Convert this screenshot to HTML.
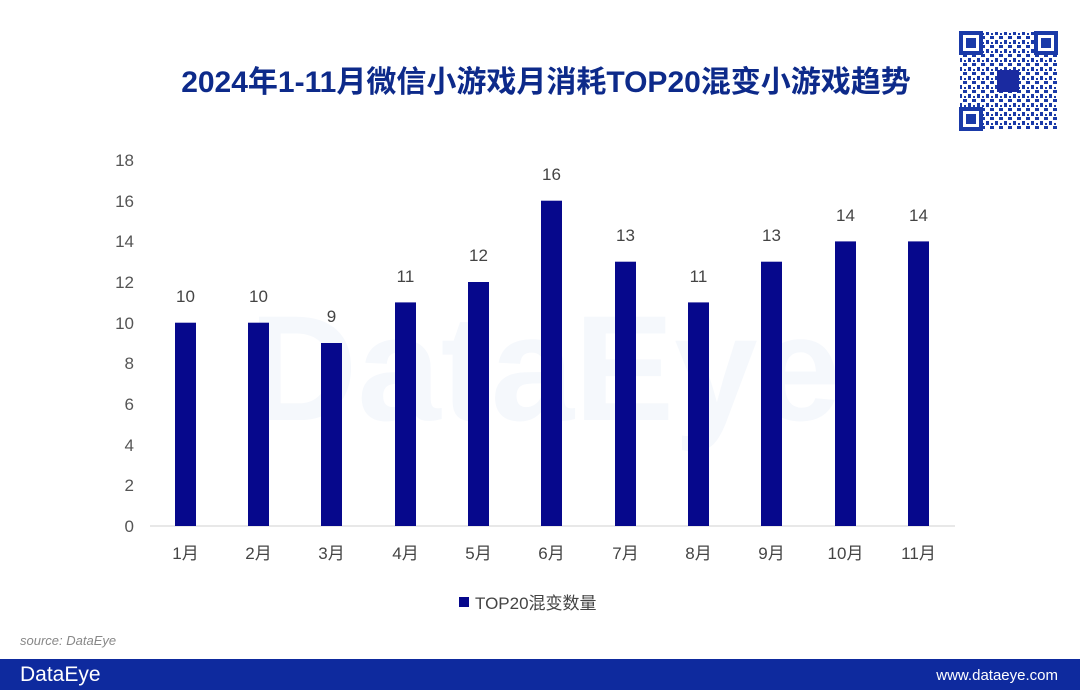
<!DOCTYPE html>
<html><head><meta charset="utf-8"><style>
html,body{margin:0;padding:0;background:#fff;}
body{width:1080px;height:690px;overflow:hidden;position:relative;font-family:"Liberation Sans","Noto Sans CJK SC",sans-serif;}
</style></head><body>
<svg width="1080" height="690" xmlns="http://www.w3.org/2000/svg" style="position:absolute;left:0;top:0">
<defs>
<pattern id="qr" width="9" height="9" patternUnits="userSpaceOnUse">
<rect x="0" y="0" width="4" height="3" fill="#1a3aa8"/><rect x="5" y="4" width="3" height="4" fill="#1a3aa8"/><rect x="1" y="6" width="2" height="2" fill="#1a3aa8"/>
</pattern>
</defs>
<text x="546" y="92" text-anchor="middle" font-size="30" font-weight="bold" fill="#0d2a8a" font-family="Liberation Sans,Noto Sans CJK SC,sans-serif">2024年1-11月微信小游戏月消耗TOP20混变小游戏趋势</text>
<text x="545" y="420" text-anchor="middle" font-size="150" font-weight="bold" fill="#f5f8fc">DataEye</text>
<g>
<rect x="960" y="32" width="97" height="98" fill="url(#qr)"/>
<rect x="961" y="33" width="20" height="20" fill="#fff" stroke="#1a3aa8" stroke-width="4"/><rect x="966" y="38" width="10" height="10" fill="#1a3aa8"/>
<rect x="1036" y="33" width="20" height="20" fill="#fff" stroke="#1a3aa8" stroke-width="4"/><rect x="1041" y="38" width="10" height="10" fill="#1a3aa8"/>
<rect x="961" y="109" width="20" height="20" fill="#fff" stroke="#1a3aa8" stroke-width="4"/><rect x="966" y="114" width="10" height="10" fill="#1a3aa8"/>
<rect x="997" y="70" width="22" height="22" fill="#1a2aa0"/>
</g>
<line x1="150" y1="526" x2="955" y2="526" stroke="#d0d0d0" stroke-width="1"/>
<g font-size="17" fill="#555" text-anchor="end">
<text x="134" y="532">0</text><text x="134" y="491">2</text><text x="134" y="451">4</text><text x="134" y="410">6</text><text x="134" y="369">8</text><text x="134" y="329">10</text><text x="134" y="288">12</text><text x="134" y="247">14</text><text x="134" y="207">16</text><text x="134" y="166">18</text>
</g>
<g fill="#06088c">
<rect x="175" y="322.7" width="21" height="203.3"/>
<rect x="248" y="322.7" width="21" height="203.3"/>
<rect x="321" y="343" width="21" height="183"/>
<rect x="395" y="302.4" width="21" height="223.6"/>
<rect x="468" y="282" width="21" height="244"/>
<rect x="541" y="200.7" width="21" height="325.3"/>
<rect x="615" y="261.7" width="21" height="264.3"/>
<rect x="688" y="302.4" width="21" height="223.6"/>
<rect x="761" y="261.7" width="21" height="264.3"/>
<rect x="835" y="241.4" width="21" height="284.6"/>
<rect x="908" y="241.4" width="21" height="284.6"/>
</g>
<g font-size="17" fill="#444" text-anchor="middle">
<text x="185.5" y="302">10</text><text x="258.5" y="302">10</text><text x="331.5" y="322">9</text><text x="405.5" y="282">11</text><text x="478.5" y="261">12</text><text x="551.5" y="180">16</text><text x="625.5" y="241">13</text><text x="698.5" y="282">11</text><text x="771.5" y="241">13</text><text x="845.5" y="221">14</text><text x="918.5" y="221">14</text>
</g>
<g font-size="17" fill="#444" text-anchor="middle">
<text x="185.5" y="559">1月</text><text x="258.5" y="559">2月</text><text x="331.5" y="559">3月</text><text x="405.5" y="559">4月</text><text x="478.5" y="559">5月</text><text x="551.5" y="559">6月</text><text x="625.5" y="559">7月</text><text x="698.5" y="559">8月</text><text x="771.5" y="559">9月</text><text x="845.5" y="559">10月</text><text x="918.5" y="559">11月</text>
</g>
<rect x="459" y="597" width="10" height="10" fill="#06088c"/>
<text x="475" y="609" font-size="17" fill="#444">TOP20混变数量</text>
<text x="20" y="645" font-size="13" font-style="italic" fill="#888">source: DataEye</text>
<rect x="0" y="659" width="1080" height="31" fill="#0e2a9e"/>
<text x="20" y="681" font-size="21" fill="#fff">DataEye</text>
<text x="1058" y="680" font-size="15" fill="#fff" text-anchor="end">www.dataeye.com</text>
</svg>
</body></html>
